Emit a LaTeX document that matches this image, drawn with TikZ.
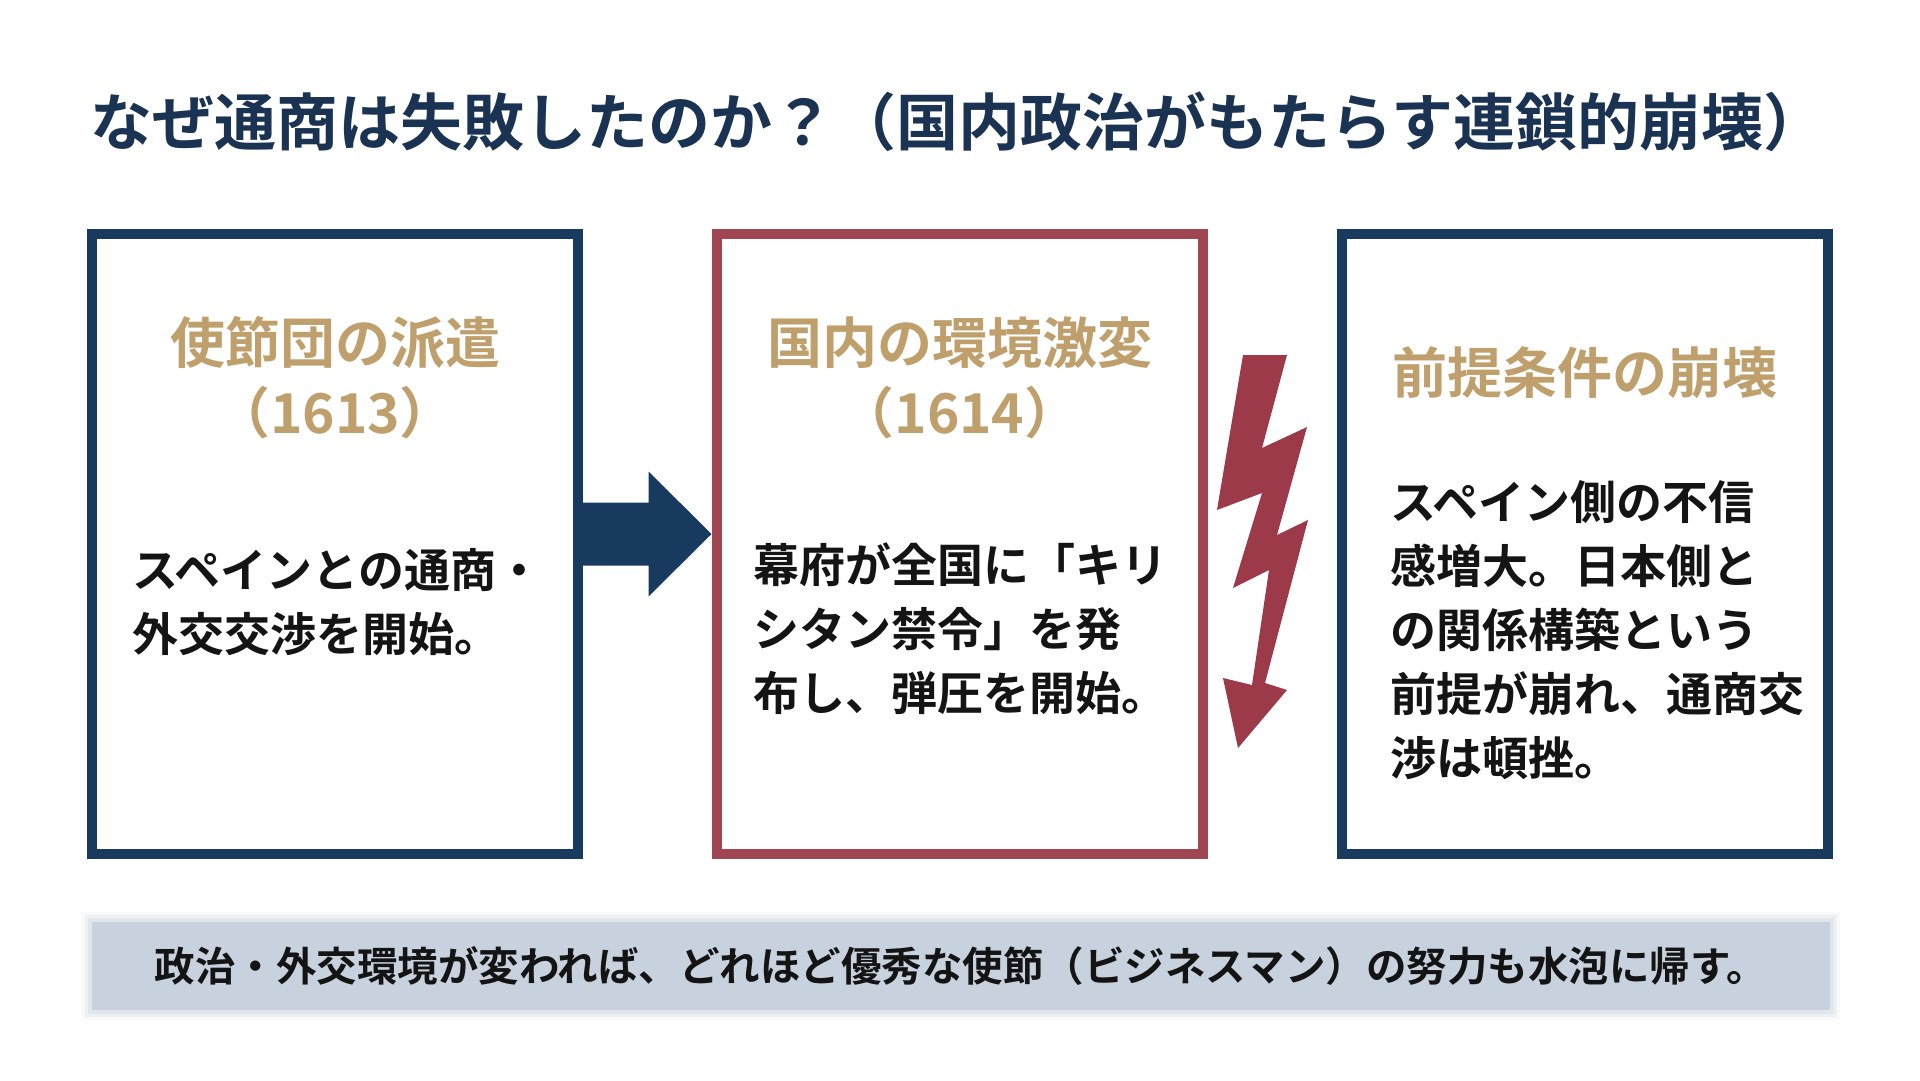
\documentclass[tikz,border=0pt]{standalone}
\usepackage{fontspec}
\setmainfont{Noto Sans CJK JP}[BoldFont={Noto Sans CJK JP Bold}]
\usetikzlibrary{calc}
\definecolor{navy}{HTML}{173A5E}
\definecolor{titlecol}{HTML}{1A3352}
\definecolor{rose}{HTML}{A04552}
\definecolor{boltcol}{HTML}{9C3A4A}
\definecolor{gold}{HTML}{BFA06C}
\definecolor{ink}{HTML}{141414}
\definecolor{barfill}{HTML}{C8D2DE}
\begin{document}
\begin{tikzpicture}[x=1pt,y=-1pt,
  panel/.style={line width=10pt, minimum width=486pt, minimum height=620pt, inner sep=0pt, fill=white},
  head/.style={text=gold, font=\fontsize{55}{70}\selectfont\bfseries, align=center, inner sep=0pt},
  body/.style={text=ink, font=\fontsize{46}{64}\selectfont\bfseries, align=left, inner sep=0pt, anchor=west},
]
\useasboundingbox (0,0) rectangle (1920,1080);
\fill[white] (0,0) rectangle (1920,1080);

% title
\node[anchor=west, inner sep=0pt, text=titlecol, font=\fontsize{62}{70}\selectfont\bfseries] (title) at (90,122)
  {なぜ通商は失敗したのか？（国内政治がもたらす連鎖的崩壊）};

% panels
\node[panel, draw=navy] (b1) at (335,544) {};
\node[panel, draw=rose] (b2) at (959.5,544) {};
\node[panel, draw=navy] (b3) at (1584.5,544) {};

% headings
\node[head] (h1) at (335,378) {使節団の派遣\\（1613）};
\node[head] (h2) at (959.5,378) {国内の環境激変\\（1614）};
\node[head] (h3) at (1584.5,373) {前提条件の崩壊};

% body texts
\node[body] (t1) at (132,602) {スペインとの通商・\\外交交渉を開始。};
\node[body] (t2) at (753,629) {幕府が全国に「キリ\\シタン禁令」を発\\布し、弾圧を開始。};
\node[body] (t3) at (1390,630) {スペイン側の不信\\感増大。日本側と\\の関係構築という\\前提が崩れ、通商交\\渉は頓挫。};

% block arrow from b1 to b2
\coordinate (ay) at (0,534);
\path (b1.east |- ay) coordinate (as) (b2.west |- ay) coordinate (at);
\fill[navy] ($(as)+(0,-31.5)$) -- ($(at)+(-63,-31.5)$) -- ($(at)+(-63,-62.5)$) -- (at)
  -- ($(at)+(-63,62.5)$) -- ($(at)+(-63,31.5)$) -- ($(as)+(0,31.5)$) -- cycle;

% lightning bolt
\fill[boltcol] (1243,355) -- (1287,355) -- (1262,448) -- (1307,427) -- (1277,535)
  -- (1308,520) -- (1265,683) -- (1287,690) -- (1238,748) -- (1223,678)
  -- (1252,685) -- (1269,570) -- (1233,588) -- (1262,493) -- (1217,510) -- cycle;

% bottom bar with soft edge
\foreach \i/\o in {10/0.12,7/0.2,4/0.35}
  \fill[barfill, opacity=\o] (92-\i,922-\i) rectangle (1830+\i,1010+\i);
\node[fill=barfill, minimum width=1738pt, minimum height=88pt, inner sep=0pt] (bar) at (961,966) {};
\node[text=ink, font=\fontsize{40.5}{48}\selectfont\bfseries, inner sep=0pt] (bartext) at (961,966)
  {政治・外交環境が変われば、どれほど優秀な使節（ビジネスマン）の努力も水泡に帰す。};
\end{tikzpicture}
\end{document}
